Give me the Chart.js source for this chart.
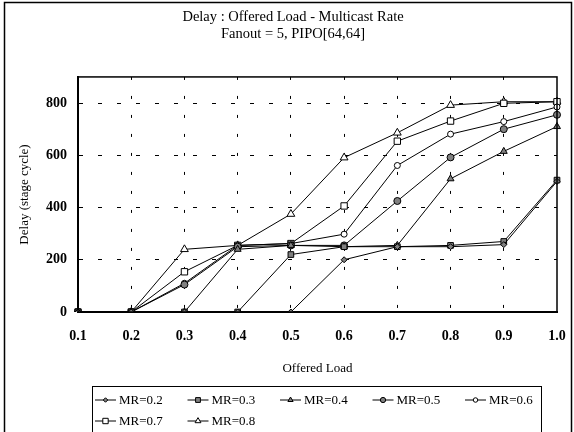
<!DOCTYPE html>
<html>
<head>
<meta charset="utf-8">
<script src="https://cdn.jsdelivr.net/npm/chart.js@4"></script>
<style>
  body { margin: 0; background: #fff; }
</style>
</head>
<body>
<canvas id="myChart" width="574" height="432"></canvas>
<script>
// data
const loads = ["0.1", "0.2", "0.3", "0.4", "0.5", "0.6", "0.7", "0.8", "0.9", "1.0"];
const mr02 = [0, 0, 0, 0, 0, 200, 250, 250, 258, 500];
const mr03 = [0, 0, 0, 0, 220, 250, 250, 255, 270, 505];
const mr04 = [0, 0, 0, 240, 255, 250, 255, 510, 615, 710];
const mr05 = [0, 0, 105, 250, 255, 255, 425, 592, 700, 755];
const mr06 = [0, 0, 110, 255, 262, 298, 561, 681, 729, 785];
const mr07 = [0, 0, 154, 255, 262, 406, 654, 731, 799, 805];
const mr08 = [0, 0, 240, 255, 375, 591, 686, 792, 805, 805];
const yTicks = [0, 200, 400, 600, 800];

const serif = "'Liberation Serif', 'Times New Roman', serif";

// one entry per series: label, values, marker look
const series = [
  {label: "MR=0.2", data: mr02, style: "rectRot", fill: "#808080", r: 3},
  {label: "MR=0.3", data: mr03, style: "rect", fill: "#808080", r: 4},
  {label: "MR=0.4", data: mr04, style: "triangle", fill: "#808080", r: 4},
  {label: "MR=0.5", data: mr05, style: "circle", fill: "#808080", r: 3.5},
  {label: "MR=0.6", data: mr06, style: "circle", fill: "#fff", r: 3},
  {label: "MR=0.7", data: mr07, style: "rect", fill: "#fff", r: 4.5},
  {label: "MR=0.8", data: mr08, style: "triangle", fill: "#fff", r: 4.5}
];

const datasets = series.map(s => ({
  label: s.label,
  data: s.data,
  borderColor: "#000",
  borderWidth: 1,
  tension: 0,
  pointStyle: s.style,
  pointRadius: s.r,
  pointBackgroundColor: s.fill,
  pointBorderColor: "#000",
  pointBorderWidth: 1
}));

// small marker painter for the legend
function marker(ctx, style, x, y, r, fill) {
  ctx.save();
  ctx.fillStyle = fill;
  ctx.strokeStyle = "#000";
  ctx.lineWidth = 1;
  ctx.beginPath();
  if (style === "circle") {
    ctx.arc(x, y, r, 0, Math.PI * 2);
  } else if (style === "rect") {
    ctx.rect(x - r * 0.8, y - r * 0.8, r * 1.6, r * 1.6);
  } else if (style === "rectRot") {
    ctx.moveTo(x, y - r); ctx.lineTo(x + r, y); ctx.lineTo(x, y + r); ctx.lineTo(x - r, y); ctx.closePath();
  } else {
    ctx.moveTo(x, y - r); ctx.lineTo(x + r * 0.87, y + r * 0.5); ctx.lineTo(x - r * 0.87, y + r * 0.5); ctx.closePath();
  }
  ctx.fill();
  ctx.stroke();
  ctx.restore();
}

// frame, plot box and the boxed legend
const decor = {
  id: "decor",
  afterDraw(chart) {
    const ctx = chart.ctx;
    const a = chart.chartArea;
    ctx.save();
    ctx.strokeStyle = "#000";
    ctx.lineWidth = 1.5;
    ctx.strokeRect(4.5, 2.5, 567, 460);
    ctx.strokeRect(a.left, a.top, a.right - a.left, a.bottom - a.top);
    ctx.lineWidth = 1;
    ctx.strokeRect(92.5, 386.5, 449, 80);
    ctx.font = "13px " + serif;
    ctx.fillStyle = "#000";
    ctx.textBaseline = "middle";
    series.forEach((s, i) => {
      const x = 95 + (i % 5) * 92.5;
      const y = i < 5 ? 400 : 421;
      ctx.beginPath();
      ctx.moveTo(x, y); ctx.lineTo(x + 21, y);
      ctx.stroke();
      marker(ctx, s.style, x + 10.5, y, s.r * 0.75, s.fill);
      ctx.fillText(s.label, x + 24, y + 1);
    });
    ctx.restore();
  }
};

const config = {
  type: "line",
  data: {labels: loads, datasets},
  options: {
    responsive: false,
    animation: false,
    layout: {padding: {left: 12, right: 0, top: 0, bottom: 50}},
    plugins: {
      legend: {display: false},
      tooltip: {enabled: false},
      title: {
        display: true,
        text: ["Delay : Offered Load - Multicast Rate", "Fanout = 5, PIPO[64,64]"],
        color: "#000",
        font: {family: serif, size: 14.5, weight: "normal", lineHeight: 1.17},
        padding: {top: 9, bottom: 34}
      }
    },
    scales: {
      x: {
        offset: false,
        grid: {
          drawTicks: false,
          color: c => (c.index === 0 || c.index === loads.length - 1) ? "rgba(0,0,0,0)" : "#000",
          lineWidth: 1
        },
        border: {display: true, color: "#000", width: 2, dash: [3, 16]},
        ticks: {
          autoSkip: false, maxRotation: 0, color: "#000", padding: 16,
          font: {family: serif, size: 14, weight: "bold"}
        },
        title: {
          display: true, text: "Offered Load", color: "#000",
          font: {family: serif, size: 13}, padding: {top: 0, bottom: 6}
        },
        afterFit: s => { s.height = 70; s.paddingLeft = 0; s.paddingRight = 0; }
      },
      y: {
        min: 0,
        max: 900,
        afterBuildTicks: s => { s.ticks = yTicks.concat([900]).map(v => ({value: v})); },
        grid: {
          drawTicks: false,
          color: c => (c.tick && (c.tick.value === 0 || c.tick.value === 900)) ? "rgba(0,0,0,0)" : "#000",
          lineWidth: 1
        },
        border: {display: true, color: "#000", width: 2, dash: [4, 15]},
        ticks: {
          color: "#000", padding: 11,
          font: {family: serif, size: 14, weight: "bold"},
          callback: v => v === 900 ? "" : v
        },
        title: {
          display: true, text: "Delay (stage cycle)", color: "#000",
          font: {family: serif, size: 13}, padding: {top: 5, bottom: 0}
        },
        afterFit: s => { s.width = 66; }
      },
      y2: {
        position: "right",
        min: 0,
        max: 900,
        grid: {display: false},
        ticks: {display: false},
        border: {display: false},
        afterFit: s => { s.width = 17; s.paddingTop = 0; s.paddingBottom = 0; }
      }
    }
  },
  plugins: [decor]
};

const chart = document.getElementById("myChart");
const myChart = new Chart(chart, config);
</script>
</body>
</html>
